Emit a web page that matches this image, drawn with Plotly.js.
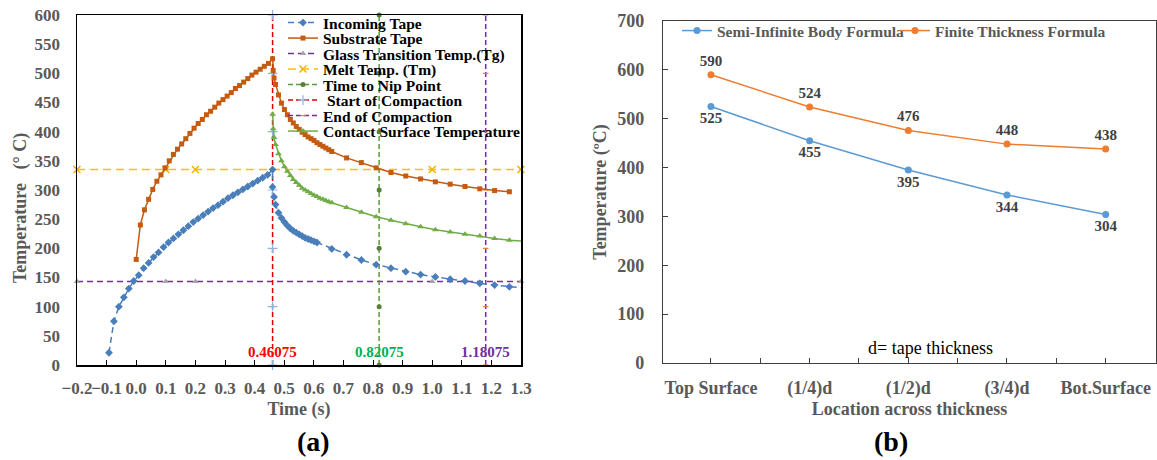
<!DOCTYPE html>
<html><head><meta charset="utf-8">
<script src="https://cdn.plot.ly/plotly-3.0.1.min.js"></script>
<style>html,body{margin:0;padding:0;background:#fff}#chart{width:1157px;height:460px}</style>
</head><body><div id="chart"></div>
<script>
// ---------- Panel (a) data ----------
const incomingTime = [-0.092, -0.0753, -0.0585, -0.0418, -0.025, -0.0083, 0.0085, 0.0253, 0.042, 0.0588, 0.0755, 0.0923, 0.109, 0.1258, 0.1425, 0.1593, 0.176, 0.1928, 0.2095, 0.2263, 0.243, 0.2598, 0.2765, 0.2933, 0.31, 0.3268, 0.3435, 0.3603, 0.377, 0.3938, 0.4105, 0.4273, 0.444, 0.46075,
  0.46075, 0.46575, 0.47075, 0.48075, 0.49075, 0.50075, 0.51075, 0.52075, 0.53075, 0.54075, 0.55075, 0.56075, 0.57075, 0.58075, 0.59075, 0.60075, 0.61075,
  0.66075, 0.71075, 0.76075, 0.81075, 0.86075, 0.91075, 0.96075, 1.01075, 1.06075, 1.11075, 1.16075, 1.21075, 1.26075, 1.31075];
const incomingTemp = [21, 75, 100, 116, 131, 144, 154, 166, 175, 185, 193, 202, 210, 217, 224, 231, 238, 245, 251, 257, 263, 269, 274, 280, 286, 291, 296, 301, 306, 311, 316, 321, 326, 335,
  305, 288, 275, 261, 252, 245, 239, 234, 230, 227, 224, 221, 218, 216, 214, 212, 210,
  199, 189, 180, 172, 166, 160, 155, 151, 147, 144, 140, 137, 134, 132];

const substrateTime = [0, 0.014, 0.0279, 0.0419, 0.0559, 0.0698, 0.0838, 0.0977, 0.1117, 0.1257, 0.1396, 0.1536, 0.1675, 0.1815, 0.1955, 0.2094, 0.2234, 0.2374, 0.2513, 0.2653, 0.2792, 0.2932, 0.3072, 0.3211, 0.3351, 0.349, 0.363, 0.377, 0.3909, 0.4049, 0.4189, 0.4328, 0.4468, 0.46075,
  0.46275, 0.46575, 0.47075, 0.48075, 0.49075, 0.50075, 0.51075, 0.52075, 0.53075, 0.54075, 0.55075, 0.56075, 0.57075, 0.58075, 0.59075, 0.60075, 0.61075, 0.62075, 0.63075, 0.64075, 0.65075, 0.66075,
  0.71075, 0.76075, 0.81075, 0.86075, 0.91075, 0.96075, 1.01075, 1.06075, 1.11075, 1.16075, 1.21075, 1.26075];
const substrateTemp = [181, 240, 266, 284, 301, 315, 326, 338, 350, 361, 370, 379, 388, 397, 406, 414, 421, 429, 435, 442, 449, 455, 461, 467, 474, 479, 485, 491, 497, 502, 507, 512, 517, 525,
  505, 492, 481, 463, 449, 438, 429, 421, 415, 409, 404, 399, 395, 391, 388, 385, 381, 378, 375, 372, 369, 366,
  355, 347, 338, 330, 324, 319, 314, 310, 306, 302, 299, 297];

const contactTime = [0.46075, 0.46275, 0.46575, 0.47075, 0.48075, 0.49075, 0.50075, 0.51075, 0.52075, 0.53075, 0.54075, 0.55075, 0.56075, 0.57075, 0.58075, 0.59075, 0.60075, 0.61075, 0.62075, 0.63075, 0.64075, 0.65075, 0.66075,
  0.71075, 0.76075, 0.81075, 0.86075, 0.91075, 0.96075, 1.01075, 1.06075, 1.11075, 1.16075, 1.21075, 1.26075, 1.31075];
const contactTemp = [430, 405, 390, 378, 362, 350, 340, 332, 325, 318, 313, 308, 303, 300, 297, 294, 291, 289, 286, 284, 282, 280, 278,
  270, 262, 254, 248, 242, 237, 232, 228, 224, 221, 217, 214, 212];

const tgTemp = 143;
const tmTemp = 335;
const refLineTimes = [-0.2, 0.1, 0.2, 1.0, 1.3];
const startCompaction = 0.46075;
const nipPoint = 0.82075;
const endCompaction = 1.18075;
const verticalMarkTemps = [0, 100, 200, 300, 400, 500, 600];

// ---------- Panel (b) data ----------
const locations = ['Top Surface', '(1/4)d', '(1/2)d', '(3/4)d', 'Bot.Surface'];
const semiInfinite = [525, 455, 395, 344, 304];
const finiteThickness = [590, 524, 476, 448, 438];

// ---------- styling ----------
const SERIF = '"Liberation Serif", "Times New Roman", Times, serif';
const GRAY = '#595959';
const bold = (size, color) => ({family: SERIF, size: size, color: color || GRAY, weight: 'bold'});
const locIdx = locations.map((_, i) => i);

const traces = [
  {name: 'Glass Transition Temp.(Tg)', legendrank: 3, x: refLineTimes, y: refLineTimes.map(() => tgTemp),
   mode: 'lines+markers', cliponaxis: false,
   line: {color: '#7030A0', width: 1.5, dash: '6px,4px'},
   marker: {symbol: 'triangle-up', size: 6, color: '#A5A5A5'}},
  {name: 'Melt Temp. (Tm)', legendrank: 4, x: refLineTimes, y: refLineTimes.map(() => tmTemp),
   mode: 'lines+markers', cliponaxis: false,
   line: {color: '#FFC000', width: 1.5, dash: '8px,5px'},
   marker: {symbol: 'x-thin', size: 7, color: '#FFC000', line: {color: '#F0B400', width: 1.5}}},
  {name: 'Time to Nip Point', legendrank: 5, x: verticalMarkTemps.map(() => nipPoint), y: verticalMarkTemps,
   mode: 'lines+markers', cliponaxis: false,
   line: {color: '#5A9A3C', width: 1.5, dash: '5px,3px'},
   marker: {symbol: 'circle', size: 5, color: '#548235'}},
  {name: ' Start of Compaction', legendrank: 6, x: verticalMarkTemps.map(() => startCompaction), y: verticalMarkTemps,
   mode: 'lines+markers', cliponaxis: false,
   line: {color: '#E00000', width: 1.5, dash: '5px,3px'},
   marker: {symbol: 'cross-thin', size: 7, color: '#8FB4E3', line: {color: '#8FB4E3', width: 1.2}}},
  {name: 'End of Compaction', legendrank: 7, x: verticalMarkTemps.map(() => endCompaction), y: verticalMarkTemps,
   mode: 'lines+markers', cliponaxis: false,
   line: {color: '#7030A0', width: 1.5, dash: '5px,3px'},
   marker: {symbol: 'line-ew', size: 4, color: '#ED7D31', line: {color: '#ED7D31', width: 1.2}}},
  {name: 'Incoming Tape', legendrank: 1, x: incomingTime, y: incomingTemp, mode: 'lines+markers',
   line: {color: '#4A7EBB', width: 1.5, dash: '6px,4px'},
   marker: {symbol: 'diamond', size: 6, color: '#4A7EBB'}},
  {name: 'Substrate Tape', legendrank: 2, x: substrateTime, y: substrateTemp, mode: 'lines+markers',
   line: {color: '#C55A11', width: 1.5},
   marker: {symbol: 'square', size: 5, color: '#C55A11'}},
  {name: 'Contact Surface Temperature', legendrank: 8, x: contactTime, y: contactTemp, mode: 'lines+markers',
   line: {color: '#70AD47', width: 1.5},
   marker: {symbol: 'triangle-up', size: 6, color: '#70AD47'}},
  // panel (b)
  {name: 'Semi-Infinite Body Formula', x: locIdx, y: semiInfinite, xaxis: 'x2', yaxis: 'y2', legend: 'legend2',
   mode: 'lines+markers+text', text: semiInfinite.map(String), textposition: 'bottom center',
   textfont: bold(15, '#404040'), cliponaxis: false,
   line: {color: '#5B9BD5', width: 1.5}, marker: {symbol: 'circle', size: 7, color: '#5B9BD5'}},
  {name: 'Finite Thickness Formula', x: locIdx, y: finiteThickness, xaxis: 'x2', yaxis: 'y2', legend: 'legend2',
   mode: 'lines+markers+text', text: finiteThickness.map(String), textposition: 'top center',
   textfont: bold(15, '#404040'), cliponaxis: false,
   line: {color: '#ED7D31', width: 1.5}, marker: {symbol: 'circle', size: 7, color: '#ED7D31'}}
];

const layout = {
  width: 1157, height: 460,
  margin: {l: 0, r: 0, t: 0, b: 0},
  paper_bgcolor: '#ffffff', plot_bgcolor: '#ffffff',
  font: {family: SERIF, color: GRAY},
  showlegend: true,
  xaxis: {
    domain: [77 / 1157, 521 / 1157], anchor: 'y',
    range: [-0.2, 1.3], tick0: 0, dtick: 0.1, tickformat: '.1f', tickangle: 0,
    ticks: 'inside', ticklen: 5, tickcolor: '#000', tickwidth: 1,
    showline: true, linecolor: '#000', linewidth: 1.5, mirror: true,
    showgrid: false, zeroline: false,
    tickfont: bold(17), ticklabelstandoff: 7,
    title: {text: 'Time (s)', font: bold(18), standoff: 5}
  },
  yaxis: {
    domain: [95 / 460, 445 / 460], anchor: 'x',
    range: [0, 600], dtick: 50, ticks: '',
    showline: true, linecolor: '#000', linewidth: 1.5, mirror: true,
    showgrid: false, zeroline: false,
    tickfont: bold(17), ticklabelstandoff: 12
  },
  xaxis2: {
    domain: [663 / 1157, 1156 / 1157], anchor: 'y2',
    range: [-0.486, 4.51], tickvals: locIdx, ticktext: locations, tickangle: 0,
    ticks: 'inside', ticklen: 5, tickcolor: '#404040',
    minor: {tick0: 0, dtick: 0.5, ticks: 'inside', ticklen: 5, tickcolor: '#404040'},
    showline: true, linecolor: '#404040', linewidth: 1.2, mirror: true,
    showgrid: false, zeroline: false,
    tickfont: bold(18), ticklabelstandoff: 8,
    title: {text: 'Location across thickness', font: bold(18), standoff: 2}
  },
  yaxis2: {
    domain: [97 / 460, 439 / 460], anchor: 'x2',
    range: [0, 700], dtick: 100,
    ticks: 'inside', ticklen: 5, tickcolor: '#404040',
    showline: true, linecolor: '#404040', linewidth: 1.2, mirror: true,
    showgrid: false, zeroline: false,
    tickfont: bold(18), ticklabelstandoff: 14,
    title: {text: 'Temperature (ºC)', font: bold(18), standoff: 6}
  },
  legend: {
    x: 283 / 1157, xanchor: 'left', y: 454 / 460, yanchor: 'top',
    bgcolor: 'rgba(0,0,0,0)', borderwidth: 0,
    font: {family: SERIF, size: 15.5, color: '#000', weight: 'bold'},
    traceorder: 'normal', itemwidth: 30
  },
  legend2: {
    orientation: 'h', x: 677 / 1157, xanchor: 'left', y: 446 / 460, yanchor: 'top',
    bgcolor: 'rgba(0,0,0,0)', borderwidth: 0,
    font: bold(15.5), itemwidth: 30,
    entrywidthmode: 'pixels', entrywidth: 173
  },
  annotations: [
    {xref: 'paper', yref: 'paper', x: 20 / 1157, y: (460 - 208) / 460, textangle: -90,
     text: 'Temperature\u00a0\u00a0\u00a0(°\u00a0C)', showarrow: false, font: bold(18),
     xanchor: 'center', yanchor: 'middle'},
    {xref: 'x', yref: 'y', x: startCompaction, y: 22, text: String(startCompaction), showarrow: false,
     font: bold(15, '#FF0000')},
    {xref: 'x', yref: 'y', x: nipPoint, y: 22, text: String(nipPoint), showarrow: false,
     font: bold(15, '#00B050')},
    {xref: 'x', yref: 'y', x: endCompaction, y: 22, text: String(endCompaction), showarrow: false,
     font: bold(15, '#7030A0')},
    {xref: 'x2', yref: 'y2', x: 2.22, y: 31, text: 'd= tape thickness', showarrow: false,
     font: {family: SERIF, size: 18, color: '#000'}},
    {xref: 'paper', yref: 'paper', x: 313 / 1157, y: (460 - 441) / 460, text: '(a)', showarrow: false,
     font: bold(28, '#000'), xanchor: 'center', yanchor: 'middle'},
    {xref: 'paper', yref: 'paper', x: 891 / 1157, y: (460 - 441) / 460, text: '(b)', showarrow: false,
     font: bold(28, '#000'), xanchor: 'center', yanchor: 'middle'}
  ]
};

// Tighten the row spacing of the panel (a) legend to match the compact original.
function compactLegend() {
  const rows = document.querySelectorAll('#chart g.legend .traces');
  if (!rows.length) return;
  const first = /translate\(\s*([-\d.]+)[ ,]+([-\d.]+)\s*\)/.exec(rows[0].getAttribute('transform'));
  if (!first) return;
  const x0 = parseFloat(first[1]), y0 = parseFloat(first[2]);
  rows.forEach((g, i) => g.setAttribute('transform', 'translate(' + x0 + ',' + (y0 + i * 15.5) + ')'));
}

Plotly.newPlot('chart', traces, layout, {displayModeBar: false, staticPlot: true}).then(compactLegend);
</script></body></html>
